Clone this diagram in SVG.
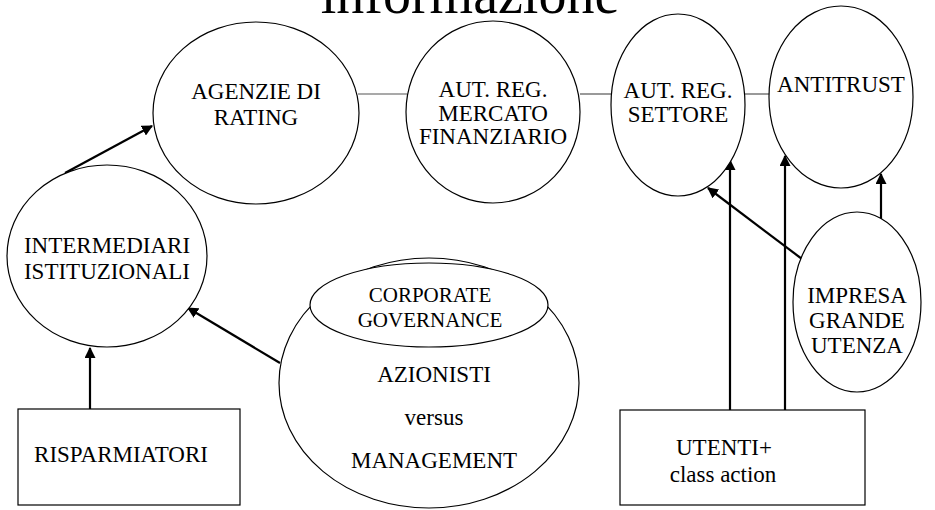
<svg xmlns="http://www.w3.org/2000/svg" width="935" height="510" viewBox="0 0 935 510">
<style>
.n{fill:#fff;stroke:#000;stroke-width:1.2}
.t{font-family:"Liberation Serif","Times New Roman",serif;font-size:23px;fill:#000;text-anchor:middle}
.s{font-size:21px}
.title{font-family:"Liberation Serif","Times New Roman",serif;font-size:56px;fill:#000;text-anchor:middle}
.l{stroke:#555;stroke-width:1.2;fill:none}
.a{stroke:#000;stroke-width:2.2;fill:none;marker-end:url(#ah)}
</style>
<defs>
<marker id="ah" viewBox="0 0 10 10" refX="9" refY="5" markerWidth="5" markerHeight="5" orient="auto" markerUnits="strokeWidth">
<path d="M0,0 L10,5 L0,10 z" fill="#000"/>
</marker>
</defs>
<rect width="935" height="510" fill="#fff"/>
<text class="title" x="470" y="13">informazione</text>
<g id="connectors">
<line class="l" x1="358" y1="94" x2="407" y2="94"/>
<line class="l" x1="580" y1="94" x2="612" y2="94"/>
<line class="l" x1="745" y1="94" x2="770" y2="94"/>
<line class="a" x1="65" y1="173" x2="152" y2="126"/>
<line class="a" x1="90" y1="409" x2="90" y2="348"/>
<line class="a" x1="280" y1="363" x2="188" y2="308"/>
<line class="a" x1="730" y1="410" x2="730" y2="160"/>
<line class="a" x1="785" y1="410" x2="785" y2="156"/>
<line class="a" x1="802" y1="259" x2="708" y2="188"/>
<line class="a" x1="881" y1="220" x2="881" y2="174"/>
</g>
<g id="agenzie">
<ellipse class="n" cx="256" cy="113" rx="103" ry="91"/>
<text class="t" x="256" y="99">AGENZIE DI</text>
<text class="t" x="256" y="125">RATING</text>
</g>
<g id="mercato">
<ellipse class="n" cx="493" cy="112" rx="87" ry="91"/>
<text class="t" x="493" y="97">AUT. REG.</text>
<text class="t" x="493" y="120.5">MERCATO</text>
<text class="t" x="493" y="144">FINANZIARIO</text>
</g>
<g id="settore">
<ellipse class="n" cx="678" cy="105" rx="67" ry="91"/>
<text class="t" x="678" y="98">AUT. REG.</text>
<text class="t" x="678" y="122">SETTORE</text>
</g>
<g id="antitrust">
<ellipse class="n" cx="841" cy="97" rx="72" ry="91"/>
<text class="t" x="841" y="92">ANTITRUST</text>
</g>
<g id="intermediari">
<ellipse class="n" cx="107" cy="256" rx="100" ry="91"/>
<text class="t" x="107" y="253">INTERMEDIARI</text>
<text class="t" x="107" y="279">ISTITUZIONALI</text>
</g>
<g id="azionisti">
<ellipse class="n" cx="429" cy="383" rx="150" ry="125"/>
<ellipse class="n" cx="429" cy="305" rx="119" ry="42"/>
<text class="t s" x="430" y="302">CORPORATE</text>
<text class="t s" x="430" y="327">GOVERNANCE</text>
<text class="t" x="434" y="382">AZIONISTI</text>
<text class="t" x="434" y="425">versus</text>
<text class="t" x="434" y="468">MANAGEMENT</text>
</g>
<g id="impresa">
<ellipse class="n" cx="857" cy="302" rx="64" ry="90"/>
<text class="t" x="857" y="303">IMPRESA</text>
<text class="t" x="857" y="328">GRANDE</text>
<text class="t" x="857" y="353">UTENZA</text>
</g>
<g id="risparmiatori">
<rect class="n" x="18" y="409" width="222" height="96"/>
<text class="t" x="121" y="462">RISPARMIATORI</text>
</g>
<g id="utenti">
<rect class="n" x="620" y="410" width="245" height="95"/>
<text class="t" x="724" y="455">UTENTI+</text>
<text class="t" x="723" y="482">class action</text>
</g>
</svg>
